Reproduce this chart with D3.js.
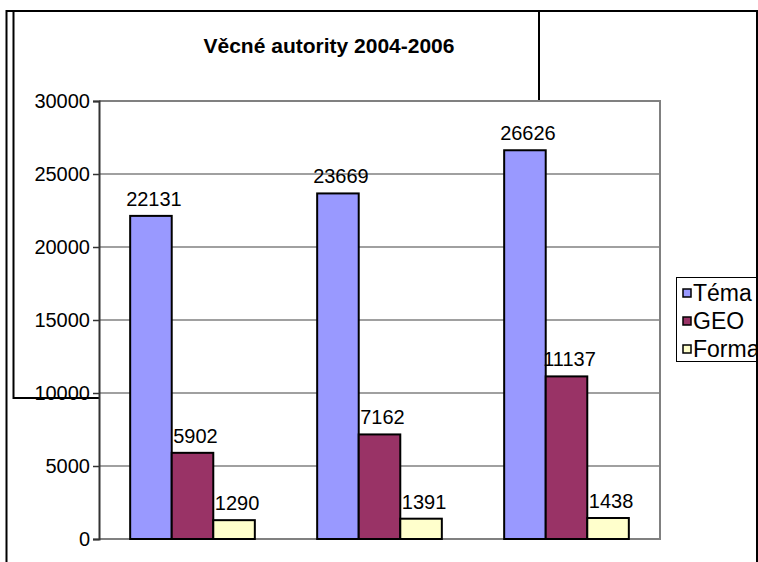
<!DOCTYPE html>
<html>
<head>
<meta charset="utf-8">
<script src="https://cdn.jsdelivr.net/npm/d3@7"></script>
<style>
  html, body { margin: 0; padding: 0; background: #fff; }
  svg { display: block; font-family: Arial, "Liberation Sans", sans-serif; }
</style>
</head>
<body>
<svg id="chart" width="758" height="562"></svg>
<script>
// ---- data ----
const title = "Věcné autority 2004-2006";
const categories = ["2004", "2005", "2006"];
const seriesNames = ["Téma", "GEO", "Forma"];
const temaValues = [22131, 23669, 26626];
const geoValues = [5902, 7162, 11137];
const formaValues = [1290, 1391, 1438];
const yTicks = [0, 5000, 10000, 15000, 20000, 25000, 30000];
const seriesColors = ["#9999FF", "#993366", "#FFFFCC"];

const seriesValues = [temaValues, geoValues, formaValues];

const svg = d3.select("#chart");
const W = 758, H = 562;

// plot area
const plot = { left: 99, right: 660, top: 101, bottom: 539 };

// outer frames
svg.append("line").attr("x1", 6.5).attr("x2", 6.5).attr("y1", 10).attr("y2", H)
  .attr("stroke", "#000").attr("stroke-width", 2);
svg.append("line").attr("x1", 6).attr("x2", W).attr("y1", 11).attr("y2", 11)
  .attr("stroke", "#000").attr("stroke-width", 2);
// inner box (partially covered by plot)
svg.append("path")
  .attr("d", "M13.5,11 V398 H120 M539,11 V120")
  .attr("fill", "none").attr("stroke", "#000").attr("stroke-width", 2);

// title
svg.append("text").attr("x", 329).attr("y", 53)
  .attr("text-anchor", "middle").attr("font-weight", "bold").attr("font-size", 21)
  .text(title);

// scales
const y = d3.scaleLinear().domain([0, 30000]).range([plot.bottom, plot.top]);
const x0 = d3.scaleBand().domain(categories).range([plot.left, plot.right]).padding(0);
const bw = x0.bandwidth() / 4.5;
const x1 = d3.scaleBand().domain(seriesNames)
  .range([0.75 * bw, 0.75 * bw + 3 * bw]).padding(0);

// plot area background
svg.append("rect").attr("x", plot.left).attr("y", plot.top)
  .attr("width", plot.right - plot.left).attr("height", plot.bottom - plot.top)
  .attr("fill", "#fff");

// gridlines
svg.append("g").selectAll("line").data(yTicks.filter(d => d > 0)).join("line")
  .attr("x1", plot.left).attr("x2", plot.right)
  .attr("y1", d => y(d)).attr("y2", d => y(d))
  .attr("stroke", "#808080").attr("stroke-width", 1.5);

// plot border (grey)
svg.append("path")
  .attr("d", `M${plot.left},${plot.top} H${plot.right} V${plot.bottom} H${plot.left}`)
  .attr("fill", "none").attr("stroke", "#808080").attr("stroke-width", 2);

// bars
const groups = svg.append("g").selectAll("g").data(categories).join("g")
  .attr("transform", d => `translate(${x0(d)},0)`);
groups.each(function(cat, ci) {
  const g = d3.select(this);
  seriesNames.forEach((s, si) => {
    const v = seriesValues[si][ci];
    g.append("rect")
      .attr("x", x1(s)).attr("y", y(v))
      .attr("width", x1.bandwidth()).attr("height", y(0) - y(v))
      .attr("fill", seriesColors[si]).attr("stroke", "#000").attr("stroke-width", 2);
    g.append("text")
      .attr("x", x1(s) + x1.bandwidth() / 2 + 3).attr("y", y(v) - 10)
      .attr("text-anchor", "middle").attr("font-size", 20)
      .text(v);
  });
});

// y axis
const yAxis = d3.axisLeft(y).tickValues(yTicks).tickSize(6).tickPadding(3).tickFormat(d3.format("d"));
const ga = svg.append("g").attr("transform", `translate(${plot.left},0)`).call(yAxis);
ga.select(".domain").attr("stroke", "#333").attr("stroke-width", 2);
ga.selectAll(".tick line").attr("stroke", "#333").attr("stroke-width", 1.5);
ga.selectAll(".tick text").attr("font-size", 20).attr("fill", "#000")
  .attr("font-family", "Arial, 'Liberation Sans', sans-serif");

// legend
const lg = svg.append("g");
lg.append("rect").attr("x", 676.5).attr("y", 277.5).attr("width", 120).attr("height", 84)
  .attr("fill", "#fff").attr("stroke", "#000").attr("stroke-width", 1);
const legendY = [293, 321, 349];
seriesNames.forEach((s, i) => {
  lg.append("rect").attr("x", 683).attr("y", legendY[i] - 4).attr("width", 8).attr("height", 8)
    .attr("fill", seriesColors[i]).attr("stroke", "#000").attr("stroke-width", 1.5);
  lg.append("text").attr("x", 693).attr("y", legendY[i]).attr("dy", "0.35em")
    .attr("font-size", 23).text(s);
});
// right border drawn over the legend (legend is clipped by it)
svg.append("rect").attr("x", 756).attr("y", 10).attr("width", 4).attr("height", H).attr("fill", "#fff");
svg.append("line").attr("x1", 757).attr("x2", 757).attr("y1", 10).attr("y2", H)
  .attr("stroke", "#000").attr("stroke-width", 2);
</script>
</body>
</html>
